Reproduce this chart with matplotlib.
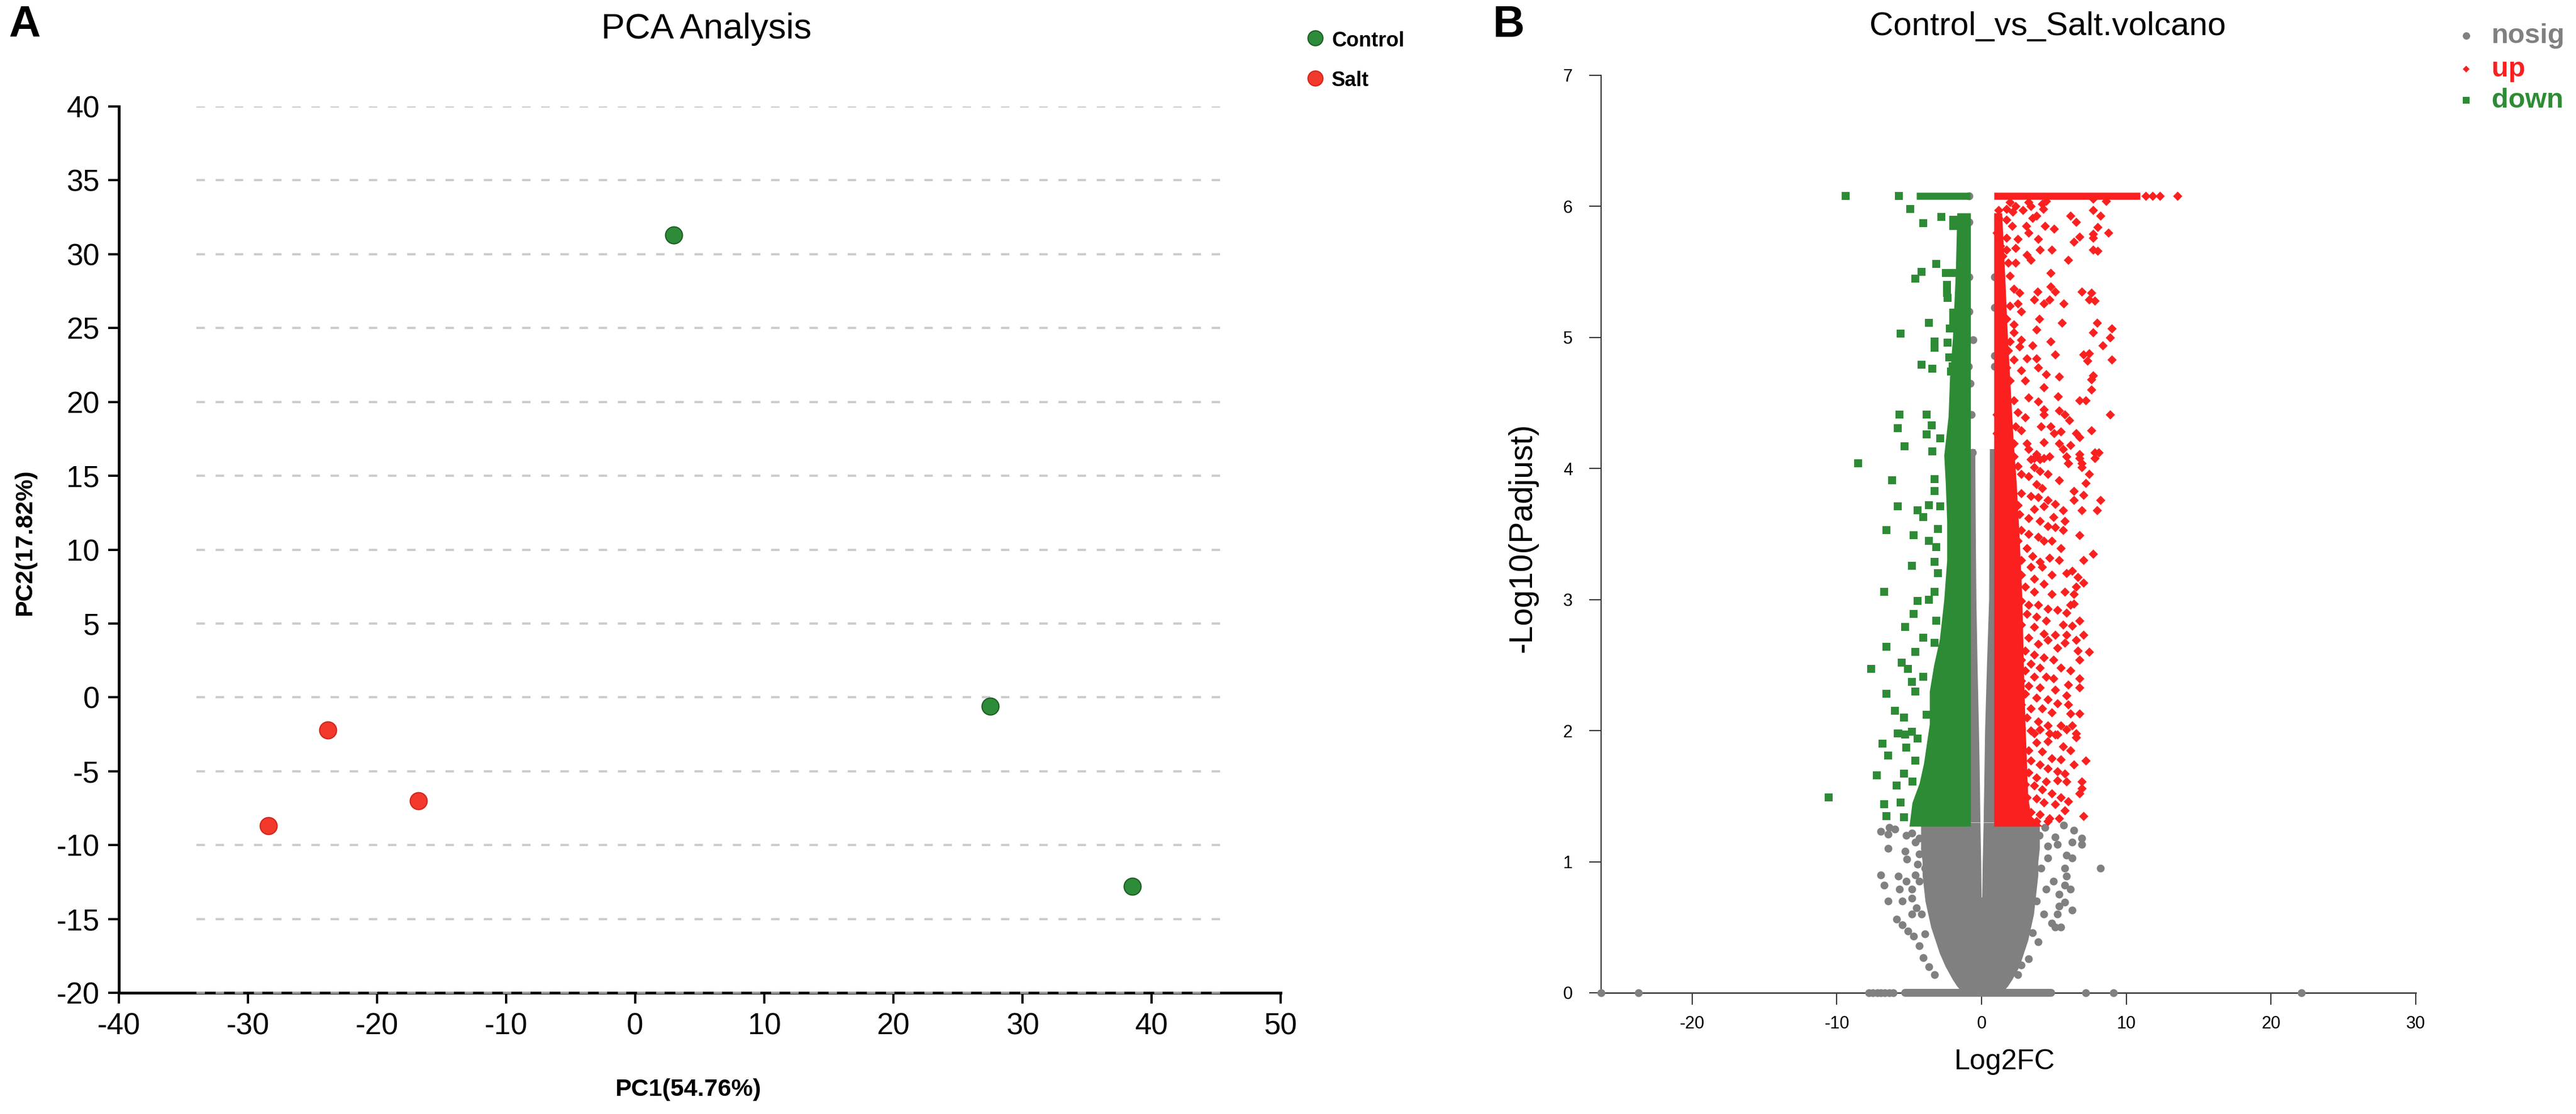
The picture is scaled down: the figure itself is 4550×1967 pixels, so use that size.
import numpy as np
import matplotlib
matplotlib.use("Agg")
import matplotlib.pyplot as plt
from matplotlib.lines import Line2D

plt.rcParams["font.family"] = ["Liberation Sans", "DejaVu Sans"]
plt.rcParams["axes.unicode_minus"] = False

# ---------------- PCA data ----------------
pc1_control = [3.0, 27.5, 38.5]
pc2_control = [31.3, -0.6, -12.8]
pc1_salt = [-28.4, -23.8, -16.8]
pc2_salt = [-8.7, -2.2, -7.0]
pca_xticks = list(range(-40, 51, 10))
pca_yticks = list(range(-20, 41, 5))
grid_from, grid_to = -34, 46

# ---------------- volcano data ----------------
vol_xticks = [-20, -10, 0, 10, 20, 30]
vol_yticks = list(range(0, 8))

# dense cores (visual envelopes)
cone_y = [0.0, 0.05, 0.1, 0.2, 0.3, 0.4, 0.5, 0.6, 0.7, 0.8, 0.9, 1.0, 1.1, 1.2, 1.3]
cone_left = [-1.3, -1.7, -2.0, -2.5, -2.9, -3.2, -3.5, -3.7, -3.9, -4.0, -4.1, -4.1, -4.2, -4.2, -4.2]
cone_right = [1.4, 1.8, 2.1, 2.6, 2.9, 3.2, 3.4, 3.6, 3.7, 3.8, 3.9, 3.9, 4.0, 4.0, 4.0]
col_y = [1.3, 4.15]
col_left = [-0.82, -0.82]
col_right = [0.92, 0.92]
gap_y = [0.73, 1.0, 1.3, 1.7, 2.0, 2.5, 3.0, 3.5, 4.0, 4.15]
gap_left = [-0.02, -0.05, -0.10, -0.15, -0.20, -0.30, -0.38, -0.42, -0.45, -0.45]
gap_right = [0.02, 0.06, 0.12, 0.18, 0.22, 0.35, 0.50, 0.52, 0.55, 0.55]

down_core_y = [1.27, 1.45, 1.6, 1.75, 1.9, 2.05, 2.3, 2.5, 2.7, 3.0, 3.3, 3.6, 3.9, 4.1,
               4.4, 4.7, 5.0, 5.5, 5.95]
down_core_left = [-5.0, -4.8, -4.3, -4.0, -3.8, -3.6, -3.6, -3.3, -2.9, -2.6, -2.4, -2.4, -2.5,
                  -2.6, -2.3, -2.2, -2.0, -1.8, -1.7]
down_core_right = [-0.76] * len(down_core_y)

up_core_y = [1.27, 1.35, 1.5, 1.8, 2.1, 2.5, 3.0, 3.5, 3.9, 4.2, 4.6, 5.0, 5.5, 5.95]
up_core_right = [4.2, 3.4, 3.2, 3.1, 3.0, 2.9, 2.8, 2.6, 2.4, 2.2, 2.0, 1.8, 1.6, 1.4]
up_core_left = [0.85] * len(up_core_y)

# capped rows at the top and the zero row (extent of the solid bars)
cap_y = 6.08
down_cap = (-4.5, -0.78)
up_cap = (0.85, 10.96)
zero_bar = (-5.3, 4.8)

up_pts = [
    (11.35, 6.08), (11.8, 6.08), (12.33, 6.08), (13.53, 6.08),
    (1.96, 6.03), (2.35, 6.00), (3.26, 6.03), (4.17, 6.02), (4.44, 6.04), (7.70, 6.06), (8.61, 6.04),
    (1.17, 5.97), (1.70, 5.98), (2.15, 5.96), (2.87, 5.97), (3.39, 6.00), (3.78, 5.93), (4.24, 5.98),
    (6.13, 5.93), (7.70, 5.97), (8.22, 5.93), (6.52, 5.88),
    (1.17, 5.91), (1.70, 5.90), (2.09, 5.85), (3.07, 5.85), (3.52, 5.91), (4.37, 5.85), (5.02, 5.83),
    (8.02, 5.84), (8.74, 5.80),
    (1.04, 5.80), (1.70, 5.76), (2.48, 5.75), (3.26, 5.80), (3.91, 5.75), (6.39, 5.73), (6.78, 5.77),
    (7.70, 5.79), (7.70, 5.76),
    (4.04, 5.67), (4.83, 5.67), (7.70, 5.67), (8.02, 5.66), (1.30, 5.70), (1.70, 5.67), (2.35, 5.68),
    (3.13, 5.63), (3.39, 5.59), (1.43, 5.62), (1.83, 5.57), (2.35, 5.57), (6.00, 5.59), (4.76, 5.49),
    (1.30, 5.46), (1.96, 5.47), (1.30, 5.42), (2.22, 5.37), (2.61, 5.34), (3.85, 5.35), (4.76, 5.39),
    (5.09, 5.35), (6.91, 5.35), (7.57, 5.34), (3.65, 5.29), (4.31, 5.26), (4.70, 5.29), (5.67, 5.26),
    (7.44, 5.29), (7.83, 5.28),
    (1.30, 5.24), (1.96, 5.24), (2.48, 5.26), (2.74, 5.20), (1.70, 5.14), (2.22, 5.10), (3.98, 5.14),
    (5.54, 5.11), (7.96, 5.11), (9.00, 5.07), (1.43, 5.04), (2.22, 5.04), (3.78, 5.06), (7.70, 5.04),
    (8.87, 5.00),
    (1.30, 4.98), (1.96, 4.97), (2.74, 4.98), (4.76, 4.97), (8.35, 4.94), (1.30, 4.91), (1.83, 4.90),
    (2.61, 4.93), (3.52, 4.94), (7.05, 4.87), (7.44, 4.88), (5.09, 4.87), (7.31, 4.82), (9.00, 4.83),
    (1.43, 4.83), (2.22, 4.83), (3.13, 4.84), (3.78, 4.84),
    (1.70, 4.77), (2.74, 4.75), (3.91, 4.77), (4.44, 4.72), (5.35, 4.70), (7.70, 4.71), (7.57, 4.68),
    (1.30, 4.71), (1.96, 4.67), (3.00, 4.67), (4.31, 4.62), (7.57, 4.60), (5.28, 4.55), (6.78, 4.52),
    (7.18, 4.52),
    (1.30, 4.54), (2.22, 4.52), (3.26, 4.54), (3.91, 4.51), (4.31, 4.45), (5.35, 4.44), (5.74, 4.41),
    (6.07, 4.37), (8.87, 4.41), (1.30, 4.45), (2.48, 4.43), (3.00, 4.39), (4.31, 4.41), (1.04, 4.41),
    (4.11, 4.32), (4.76, 4.32), (5.02, 4.27), (5.48, 4.28), (6.52, 4.27), (6.78, 4.24), (7.57, 4.29),
    (1.04, 4.27), (1.70, 4.29), (2.35, 4.32), (2.74, 4.29),
    (1.57, 4.21), (2.22, 4.19), (3.13, 4.19), (4.31, 4.20), (5.35, 4.19), (5.61, 4.15), (6.13, 4.18),
    (3.26, 4.15), (3.78, 4.11), (4.70, 4.09), (6.78, 4.11), (7.83, 4.12), (8.09, 4.12), (1.30, 4.12),
    (2.22, 4.09), (3.39, 4.07), (4.04, 4.07), (6.00, 4.04), (6.91, 4.04),
    (3.65, 4.08), (4.31, 4.08), (5.87, 4.09), (6.78, 4.08), (7.83, 4.08), (6.00, 4.04), (6.91, 4.01),
    (7.44, 3.96), (3.65, 4.01), (4.04, 3.98), (4.57, 3.96), (2.48, 4.02), (2.74, 3.96), (3.26, 3.94),
    (5.35, 3.91), (7.18, 3.89), (3.78, 3.88), (4.17, 3.85), (6.39, 3.83), (7.05, 3.80), (8.22, 3.76),
    (7.96, 3.68), (6.91, 3.68), (6.39, 3.76), (2.74, 3.81), (3.39, 3.79), (3.91, 3.78), (4.57, 3.76),
    (5.09, 3.73), (5.61, 3.68), (2.48, 3.72), (3.65, 3.69), (4.31, 3.71), (4.96, 3.63), (5.74, 3.60),
    (2.61, 3.65), (3.26, 3.62), (4.04, 3.60), (4.57, 3.56), (5.09, 3.55), (5.61, 3.53), (6.78, 3.49),
    (2.74, 3.53), (3.26, 3.50), (3.91, 3.48), (4.31, 3.45), (4.83, 3.45), (5.48, 3.39), (7.05, 3.30),
    (7.70, 3.35), (5.35, 3.30), (2.48, 3.45), (3.13, 3.39), (3.52, 3.33), (4.04, 3.29), (4.70, 3.32),
    (2.74, 3.30), (3.39, 3.25), (4.17, 3.25), (4.83, 3.19), (5.87, 3.20), (6.26, 3.22), (6.65, 3.17),
    (7.05, 3.13), (6.52, 3.10), (5.74, 3.06), (2.74, 3.19), (3.65, 3.16), (4.31, 3.12), (4.83, 3.04),
    (3.00, 3.10), (3.65, 3.06), (6.39, 3.04), (6.39, 2.97), (6.13, 2.96), (2.74, 2.99), (3.26, 2.96),
    (3.91, 2.96), (4.57, 2.93), (5.22, 2.92), (5.87, 2.90), (6.78, 2.84), (3.13, 2.89), (3.78, 2.87),
    (4.44, 2.84), (5.61, 2.81), (6.26, 2.80), (2.74, 2.81), (3.65, 2.79), (4.31, 2.74), (5.09, 2.73),
    (5.87, 2.73), (7.05, 2.73), (6.52, 2.69), (5.74, 2.67), (2.48, 2.74), (3.26, 2.71), (3.91, 2.66),
    (4.57, 2.69), (5.22, 2.63), (3.00, 2.61), (3.65, 2.58), (4.31, 2.56), (4.96, 2.54), (6.65, 2.61),
    (7.44, 2.60), (6.78, 2.54), (2.74, 2.54), (3.39, 2.51), (4.04, 2.48), (5.48, 2.48), (6.13, 2.46),
    (3.00, 2.46), (3.65, 2.41), (4.44, 2.41), (4.96, 2.40), (6.78, 2.40), (6.00, 2.35), (6.78, 2.33),
    (2.74, 2.38), (3.26, 2.34), (4.04, 2.33), (5.09, 2.31), (5.87, 2.27), (3.00, 2.28), (3.78, 2.25),
    (4.57, 2.24), (5.22, 2.21), (6.00, 2.20), (2.74, 2.20), (3.39, 2.17), (4.17, 2.17), (4.83, 2.14),
    (6.13, 2.13), (6.78, 2.13), (3.13, 2.10), (3.91, 2.07), (4.57, 2.04), (5.48, 2.04), (6.26, 2.04),
    (2.74, 2.01), (3.65, 1.98), (5.09, 1.97), (6.52, 1.98),
    (2.74, 2.02), (3.39, 2.00), (4.04, 2.01), (4.70, 1.98), (5.22, 1.97), (5.87, 2.01), (6.52, 1.95),
    (4.57, 1.92), (3.78, 1.91), (5.61, 1.88), (6.13, 1.85), (7.18, 1.77), (2.74, 1.90), (3.26, 1.85),
    (4.17, 1.84), (4.83, 1.79), (5.48, 1.78), (6.39, 1.74), (3.39, 1.77), (4.04, 1.74), (4.57, 1.71),
    (5.22, 1.69), (5.74, 1.67), (6.91, 1.61), (6.91, 1.56), (6.78, 1.52), (2.74, 1.71), (3.26, 1.68),
    (3.78, 1.64), (4.44, 1.61), (5.22, 1.62), (5.87, 1.61), (3.00, 1.59), (3.65, 1.58), (4.17, 1.55),
    (4.83, 1.52), (5.48, 1.49), (6.00, 1.46), (3.13, 1.49), (3.78, 1.48), (4.31, 1.45), (5.09, 1.44),
    (5.74, 1.39), (7.05, 1.35), (2.74, 1.41), (3.39, 1.38), (4.04, 1.36), (4.70, 1.33), (5.35, 1.33),
    (3.00, 1.32), (3.78, 1.31), (4.57, 1.31),
]

down_pts = [
    (-9.39, 6.08), (-5.70, 6.08),
    (-4.93, 5.98), (-2.78, 5.92), (-4.04, 5.87), (-3.13, 5.56), (-4.15, 5.50), (-4.57, 5.45),
    (-3.65, 5.11), (-5.58, 5.03), (-3.26, 4.97), (-3.26, 4.92), (-2.37, 4.96), (-2.24, 4.85),
    (-4.15, 4.79), (-3.39, 4.76), (-2.11, 4.74), (-5.68, 4.41), (-5.81, 4.31), (-3.78, 4.41),
    (-3.46, 4.33), (-3.78, 4.26), (-2.87, 4.23), (-5.32, 4.17), (-3.39, 4.13), (-8.52, 4.04),
    (-1.96, 5.90), (-1.96, 5.85), (-2.48, 5.49), (-1.96, 5.49), (-2.41, 5.40), (-2.41, 5.34),
    (-2.35, 5.30), (-1.96, 5.19), (-1.96, 5.13), (-2.20, 5.07), (-2.00, 4.78),
    (-6.20, 3.91), (-3.26, 3.92), (-3.26, 3.83), (-5.81, 3.71), (-3.65, 3.72), (-2.87, 3.71),
    (-4.44, 3.68), (-4.04, 3.63), (-6.59, 3.53), (-4.70, 3.49), (-3.00, 3.54), (-3.65, 3.45),
    (-3.13, 3.40), (-4.83, 3.26), (-3.26, 3.29), (-3.00, 3.20), (-6.72, 3.06), (-4.44, 2.99),
    (-3.65, 3.00), (-3.26, 3.06), (-4.70, 2.89), (-3.13, 2.84), (-5.28, 2.79), (-4.04, 2.71),
    (-3.26, 2.67), (-6.59, 2.64), (-4.57, 2.60), (-5.54, 2.52), (-7.63, 2.47), (-5.09, 2.47),
    (-4.83, 2.37), (-4.04, 2.41), (-6.59, 2.28), (-4.57, 2.30), (-6.00, 2.15), (-5.35, 2.10),
    (-3.78, 2.12), (-5.74, 1.98), (-4.83, 1.99),
    (-5.81, 1.98), (-5.28, 1.97), (-4.44, 1.94), (-6.85, 1.90), (-5.22, 1.87), (-6.46, 1.81),
    (-4.57, 1.77), (-7.24, 1.66), (-5.35, 1.67), (-5.87, 1.58), (-4.76, 1.61), (-6.72, 1.44),
    (-5.61, 1.45), (-6.59, 1.35), (-5.35, 1.34), (-10.56, 1.49),
]

nosig_pts = [
    (-0.85, 6.08), (-0.85, 5.88), (-0.85, 5.46), (0.91, 5.46), (0.91, 5.23), (-0.85, 5.20),
    (-0.59, 4.98), (0.91, 4.86), (-0.91, 4.78), (0.91, 4.78), (-0.78, 4.65), (-0.72, 4.41),
    (-0.65, 4.12),
    (-6.98, 1.23), (-6.46, 1.21), (-6.00, 1.25), (-6.39, 1.26), (-5.22, 1.20), (-4.83, 1.22),
    (-4.31, 1.18), (-3.78, 1.26), (-3.39, 1.21), (-2.74, 1.26), (-6.46, 1.10), (-5.28, 1.08),
    (-4.31, 1.06), (-3.91, 1.10), (-3.39, 1.03), (-5.15, 1.02), (-4.44, 0.98), (-3.91, 0.95),
    (-6.98, 0.90), (-5.74, 0.89), (-5.22, 0.85), (-4.57, 0.90), (-6.72, 0.82), (-5.68, 0.79),
    (-4.83, 0.79), (-4.31, 0.85), (-6.46, 0.70), (-5.48, 0.70), (-4.83, 0.72), (-5.87, 0.56),
    (-5.48, 0.52), (-5.09, 0.47), (-4.70, 0.43), (-4.31, 0.36), (-4.83, 0.60), (-4.17, 0.60),
    (-4.04, 0.27), (-3.65, 0.20), (-3.26, 0.14), (-4.60, 1.15), (-3.60, 0.95), (-4.50, 0.65),
    (-3.90, 0.45),
    (5.67, 1.28), (6.39, 1.24), (6.91, 1.18), (6.91, 1.13), (5.09, 1.19), (4.37, 1.26), (6.26, 1.15),
    (4.57, 1.12), (5.22, 1.13), (5.87, 1.05), (6.26, 1.03), (8.22, 0.95), (5.74, 0.95), (5.87, 0.89),
    (4.57, 1.03), (4.96, 0.85), (5.74, 0.82), (6.13, 0.79), (4.44, 0.79), (5.35, 0.75), (5.74, 0.69),
    (5.35, 0.66), (6.26, 0.63), (5.22, 0.60), (4.83, 0.53), (5.09, 0.50), (5.48, 0.50), (3.52, 0.46),
    (3.91, 0.39), (3.26, 0.26), (2.74, 0.21), (2.48, 0.14), (4.00, 1.20), (4.10, 0.95), (4.30, 0.60),
    (3.80, 0.70),
]
nosig_zero_x = [-26.3, -23.7, -7.8, -7.5, -7.2, -6.95, -6.7, -6.4, -6.1, 7.2, 9.1, 22.1]

GREEN_PCA, GREEN_PCA_EDGE = "#2e8b3a", "#1c5e22"
RED_PCA, RED_PCA_EDGE = "#f2392b", "#d0261a"
GRAY, RED, GREEN = "#808080", "#fa2020", "#2e8b35"

fig = plt.figure(figsize=(45.5, 19.67), dpi=100)

# ================= panel A : PCA =================
ax1 = fig.add_axes([0.04615, 0.1088, 0.4510, 0.7956])
ax1.set_xlim(-40, 50)
ax1.set_ylim(-20, 40)
for s in ["top", "right"]:
    ax1.spines[s].set_visible(False)
for s in ["left", "bottom"]:
    ax1.spines[s].set_linewidth(3.5)
    ax1.spines[s].set_color("black")
ax1.hlines(pca_yticks[1:], grid_from, grid_to, colors="#cccccc", linewidth=2.9,
           linestyles=[(0, (3.7, 4.7))], zorder=0)
ax1.hlines([pca_yticks[0]], grid_from, grid_to, colors="#9a9a9a", linewidth=2.9,
           linestyles=[(0, (3.7, 4.7))], zorder=3, clip_on=False)
ax1.scatter(pc1_control, pc2_control, s=466, c=GREEN_PCA, edgecolors=GREEN_PCA_EDGE,
            linewidths=1.5, zorder=4, clip_on=False)
ax1.scatter(pc1_salt, pc2_salt, s=466, c=RED_PCA, edgecolors=RED_PCA_EDGE,
            linewidths=1.5, zorder=4, clip_on=False)
ax1.set_xticks(pca_xticks)
ax1.set_yticks(pca_yticks)
ax1.tick_params(labelsize=38, length=13.7, width=2.9, pad=10.8, direction="out")

fig.text(0.2743, 0.9654, "PCA Analysis", fontsize=45, ha="center", va="baseline")
fig.text(0.267, 0.0163, "PC1(54.76%)", fontsize=31, fontweight="bold", ha="center", va="baseline")
fig.text(0.0097, 0.513, "PC2(17.82%)", fontsize=31, fontweight="bold", rotation=90,
         ha="center", va="center")
fig.text(0.0033, 0.967, "A", fontsize=56, fontweight="bold", va="baseline")

for (yy, lab, fc, ec) in [(0.966, "Control", GREEN_PCA, GREEN_PCA_EDGE),
                          (0.930, "Salt", RED_PCA, RED_PCA_EDGE)]:
    fig.add_artist(Line2D([0.5105], [yy], transform=fig.transFigure, marker="o",
                          markersize=19, markerfacecolor=fc, markeredgecolor=ec,
                          markeredgewidth=1.5, linestyle="none"))
    fig.text(0.5170, yy - 0.0075, lab, fontsize=26, fontweight="bold", va="baseline")

# ================= panel B : volcano =================
ax2 = fig.add_axes([0.6215, 0.1088, 0.3163, 0.8236])
ax2.set_xlim(-26.3, 30)
ax2.set_ylim(0, 7)
for s in ["top", "right"]:
    ax2.spines[s].set_visible(False)
ax2.spines["left"].set_color("#333333")
ax2.spines["left"].set_linewidth(1.5)
ax2.spines["bottom"].set_color("#444444")
ax2.spines["bottom"].set_linewidth(2.0)
ax2.set_xticks(vol_xticks)
ax2.set_yticks(vol_yticks)
ax2.tick_params(labelsize=22, length=15, width=1.5, color="#333333")
ax2.tick_params(axis="y", pad=21)
ax2.tick_params(axis="x", pad=14)

# gray (not significant) core
ax2.fill_betweenx(cone_y, cone_left, cone_right, color=GRAY, lw=0, zorder=1)
ax2.fill_betweenx(col_y, col_left, col_right, color=GRAY, lw=0, zorder=1)
ax2.fill_betweenx(gap_y, gap_left, gap_right, color="white", lw=0, zorder=1.5)
nx, ny = zip(*nosig_pts)
ax2.scatter(nx, ny, s=100, c=GRAY, linewidths=0, zorder=2)
ax2.hlines(0, zero_bar[0], zero_bar[1], colors=GRAY, linewidth=10, capstyle="round",
           zorder=3, clip_on=False)
ax2.scatter(nosig_zero_x, [0] * len(nosig_zero_x), s=100, c=GRAY, linewidths=0,
            zorder=3, clip_on=False)

# down-regulated
ax2.fill_betweenx(down_core_y, down_core_left, down_core_right, color=GREEN, lw=0, zorder=3)
dx, dy = zip(*down_pts)
ax2.scatter(dx, dy, s=90, marker="s", c=GREEN, linewidths=0, zorder=3)
ax2.hlines(cap_y, down_cap[0], down_cap[1], colors=GREEN, linewidth=9, zorder=3)

# up-regulated
ax2.fill_betweenx(up_core_y, up_core_left, up_core_right, color=RED, lw=0, zorder=3)
ux, uy = zip(*up_pts)
ax2.scatter(ux, uy, s=70, marker="D", c=RED, linewidths=0, zorder=3)
ax2.hlines(cap_y, up_cap[0], up_cap[1], colors=RED, linewidth=9, zorder=3)

fig.text(0.795, 0.9685, "Control_vs_Salt.volcano", fontsize=42, ha="center", va="baseline")
fig.text(0.7782, 0.0402, "Log2FC", fontsize=36, ha="center", va="baseline")
fig.text(0.5912, 0.5175, "-Log10(Padjust)", fontsize=41, rotation=90, ha="center", va="center")
fig.text(0.5796, 0.967, "B", fontsize=56, fontweight="bold", va="baseline")

for (yy, lab, col, mk, ms) in [(0.968, "nosig", GRAY, "o", 9.4),
                               (0.938, "up", RED, "D", 6.6),
                               (0.910, "down", GREEN, "s", 8.6)]:
    fig.add_artist(Line2D([0.9574], [yy], transform=fig.transFigure, marker=mk,
                          markersize=ms, markerfacecolor=col, markeredgewidth=0,
                          linestyle="none"))
    fig.text(0.9673, yy - 0.0065, lab, fontsize=35, fontweight="bold", color=col, va="baseline")

fig.savefig("out.png", dpi=100)
